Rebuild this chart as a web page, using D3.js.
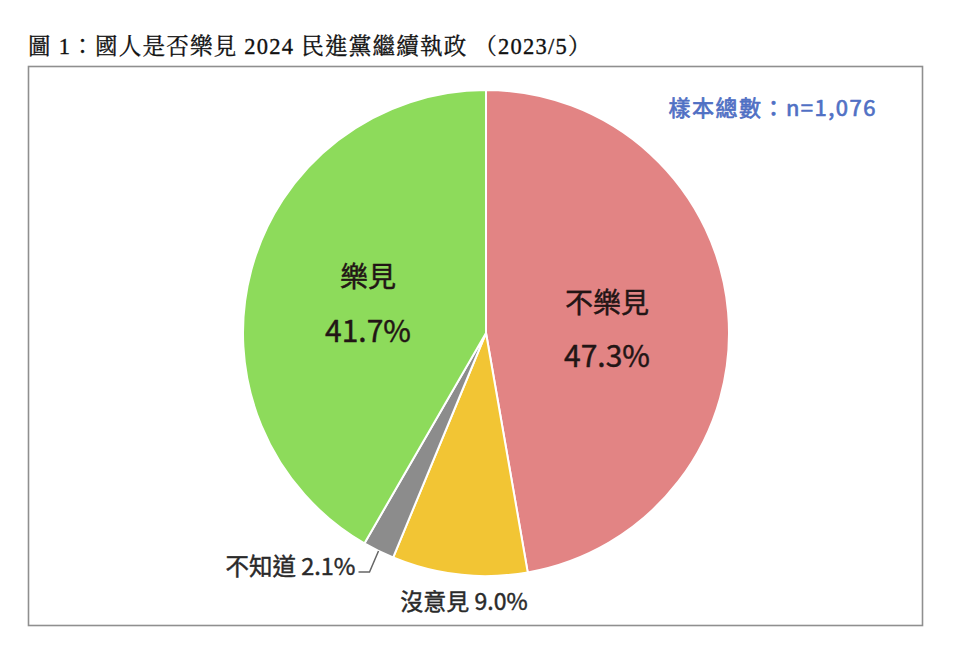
<!DOCTYPE html>
<html><head><meta charset="utf-8">
<script src="https://cdn.jsdelivr.net/npm/d3@7"></script>
<style>
html,body{margin:0;padding:0;background:#fff;}
svg{display:block;}
</style></head>
<body>
<svg id="chart" width="960" height="658"></svg>
<script>
const categories = ["不樂見", "沒意見", "不知道", "樂見"];
const values = [47.3, 9.0, 2.1, 41.7];
const colors = ["#E28484", "#F2C534", "#8C8C8C", "#8DDB5B"];
const titleText = "圖 1：國人是否樂見 2024 民進黨繼續執政 （2023/5）";
const sampleText = "樣本總數：n=1,076";

const svg = d3.select("#chart");
const W = 960, H = 658;
const cx = 486, cy = 333, R = 243;

svg.append("rect").attr("width", W).attr("height", H).attr("fill", "#fff");

// title
svg.append("text")
  .attr("x", 28).attr("y", 54)
  .attr("font-family", "'Liberation Serif', 'Noto Serif CJK TC', 'Noto Sans CJK TC', serif")
  .attr("font-size", 22.5)
  .attr("letter-spacing", 1.25)
  .attr("fill", "#111").attr("stroke", "#111").attr("stroke-width", 0.35)
  .text(titleText);

// frame
svg.append("rect")
  .attr("x", 28.5).attr("y", 66.5).attr("width", 894).attr("height", 559)
  .attr("fill", "none").attr("stroke", "#8f8f8f").attr("stroke-width", 1.6);

const total = d3.sum(values);
const pie = d3.pie().sort(null).value(d => d.v)
  .startAngle(0).endAngle(2 * Math.PI * total / 100);
const data = categories.map((c, i) => ({c, v: values[i], col: colors[i]}));
const arcs = pie(data);
const arc = d3.arc().innerRadius(0).outerRadius(R);

const g = svg.append("g").attr("transform", `translate(${cx},${cy})`);
g.selectAll("path").data(arcs).join("path")
  .attr("d", arc)
  .attr("fill", d => d.data.col)
  .attr("stroke", "#fff").attr("stroke-width", 2).attr("stroke-linejoin", "round");

const sans = "'Noto Sans CJK TC', 'Noto Sans', sans-serif";

function label(x, y, txt, size, anchor, col) {
  svg.append("text").attr("x", x).attr("y", y).attr("text-anchor", anchor)
    .attr("font-family", sans).attr("font-size", size)
    .attr("fill", col).attr("stroke", col).attr("stroke-width", 0.45)
    .attr("stroke-linejoin", "round")
    .text(txt);
}

// inside labels
const inside = [
  {i: 0, x: 607, y1: 313, y2: 367},
  {i: 3, x: 368, y1: 287, y2: 342}
];
inside.forEach(o => {
  label(o.x, o.y1, categories[o.i], 28, "middle", "#221515");
  label(o.x, o.y2, d3.format(".1f")(values[o.i]) + "%", 30, "middle", "#221515");
});

// 沒意見 label
label(464, 610, categories[1] + " " + d3.format(".1f")(values[1]) + "%", 23, "middle", "#2a2a2a");

// 不知道 label with leader
const gray = arcs[2];
const mid = (gray.startAngle + gray.endAngle) / 2;
const px = cx + R * Math.sin(mid), py = cy - R * Math.cos(mid);
svg.append("path")
  .attr("d", `M${px},${py} L${px - 9},${py + 21} L${px - 20},${py + 21}`)
  .attr("fill", "none").attr("stroke", "#666").attr("stroke-width", 1.5);
label(px - 23, py + 24, categories[2] + " " + d3.format(".1f")(values[2]) + "%", 23.5, "end", "#2a2a2a");

// sample size
svg.append("text").attr("x", 877).attr("y", 116).attr("text-anchor", "end")
  .attr("font-family", sans).attr("font-size", 22)
  .attr("letter-spacing", 1.5).attr("fill", "#5070C4")
  .attr("stroke", "#5070C4").attr("stroke-width", 0.7).attr("stroke-linejoin", "round")
  .text(sampleText);
</script>
</body></html>
